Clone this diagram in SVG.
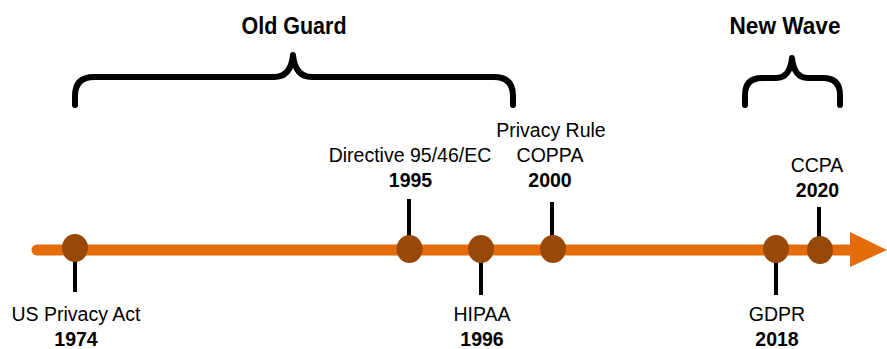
<svg xmlns="http://www.w3.org/2000/svg" width="887" height="349" viewBox="0 0 887 349">
  <style>
    text { font-family: "Liberation Sans", Arial, sans-serif; fill: #000; text-anchor: middle; }
    .head { font-size: 23px; font-weight: bold; }
    .lbl { font-size: 19.5px; }
    .yr { font-size: 19.5px; font-weight: bold; }
    .brace { fill: none; stroke: #000; stroke-width: 6; stroke-linecap: round; stroke-linejoin: round; }
    .stem { stroke: #000; stroke-width: 4; }
    .dot { fill: #984807; }
    .axis { stroke: #E46C0A; stroke-width: 11; stroke-linecap: round; }
  </style>

  <!-- era headings and braces -->
  <g id="era-old-guard">
    <text class="head" x="294" y="33.5" textLength="105" lengthAdjust="spacingAndGlyphs">Old Guard</text>
    <path class="brace" d="M75,105 V96 Q75,77 94,77 H274 Q291,77 293,55 Q295,77 312,77 H494 Q513,77 513,96 V105"/>
  </g>
  <g id="era-new-wave">
    <text class="head" x="785" y="33.5" textLength="111" lengthAdjust="spacingAndGlyphs">New Wave</text>
    <path class="brace" d="M745,105 V95 Q745,78 762,78 H776 Q790,78 792,58 Q794,78 808,78 H823 Q840,78 840,95 V105"/>
  </g>

  <!-- timeline axis and stems -->
  <g id="connectors">
    <line class="axis" x1="37" y1="250" x2="852" y2="250"/>
    <polygon points="850,232 887,250 850,267" fill="#E46C0A"/>
    <line class="stem" x1="75" y1="249" x2="75" y2="292"/>
    <line class="stem" x1="409" y1="199" x2="409" y2="249"/>
    <line class="stem" x1="481" y1="249" x2="481" y2="295"/>
    <line class="stem" x1="552" y1="202" x2="552" y2="249"/>
    <line class="stem" x1="776" y1="249" x2="776" y2="295"/>
    <line class="stem" x1="819" y1="207" x2="819" y2="249"/>
  </g>

  <!-- events -->
  <g id="event-1974">
    <ellipse class="dot" cx="75" cy="248" rx="13" ry="14"/>
    <text class="lbl" x="76" y="321">US Privacy Act</text>
    <text class="yr" x="76" y="345.5">1974</text>
  </g>
  <g id="event-1995">
    <ellipse class="dot" cx="409.5" cy="249" rx="13" ry="14"/>
    <text class="lbl" x="410" y="162">Directive 95/46/EC</text>
    <text class="yr" x="410.5" y="187">1995</text>
  </g>
  <g id="event-1996">
    <ellipse class="dot" cx="481" cy="249" rx="13" ry="14"/>
    <text class="lbl" x="482" y="321">HIPAA</text>
    <text class="yr" x="482" y="345.5">1996</text>
  </g>
  <g id="event-2000">
    <ellipse class="dot" cx="553" cy="249" rx="13" ry="14"/>
    <text class="lbl" x="551" y="137">Privacy Rule</text>
    <text class="lbl" x="550" y="162">COPPA</text>
    <text class="yr" x="550" y="187">2000</text>
  </g>
  <g id="event-2018">
    <ellipse class="dot" cx="776" cy="249" rx="13" ry="14"/>
    <text class="lbl" x="777" y="321">GDPR</text>
    <text class="yr" x="777" y="345.5">2018</text>
  </g>
  <g id="event-2020">
    <ellipse class="dot" cx="820" cy="250" rx="13" ry="14"/>
    <text class="lbl" x="817" y="172">CCPA</text>
    <text class="yr" x="817.5" y="197">2020</text>
  </g>
</svg>
